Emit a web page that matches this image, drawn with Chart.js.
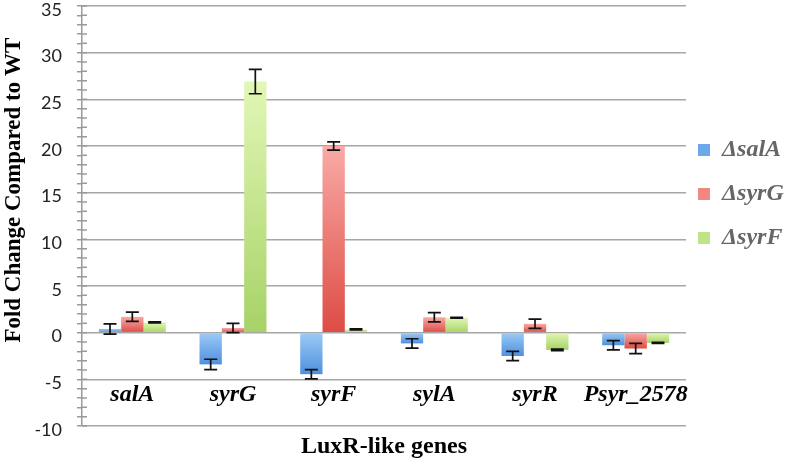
<!DOCTYPE html>
<html>
<head>
<meta charset="utf-8">
<script src="https://cdn.jsdelivr.net/npm/chart.js@4.4.1/dist/chart.umd.min.js"></script>
<style>
  html, body { margin: 0; padding: 0; background: #ffffff; }
  #wrap { width: 790px; height: 464px; }
</style>
</head>
<body>
<div id="wrap"><canvas id="c" width="790" height="464"></canvas></div>
<script>
// ---- data ----
const categories = ['salA', 'syrG', 'syrF', 'sylA', 'syrR', 'Psyr_2578'];
const seriesNames = ['\u0394salA', '\u0394syrG', '\u0394syrF'];
const salAValues = [0.4, -3.4, -4.45, -1.15, -2.5, -1.35];
const salAErrors = [0.55, 0.55, 0.5, 0.5, 0.5, 0.5];
const syrGValues = [1.7, 0.5, 20.0, 1.65, 0.95, -1.7];
const syrGErrors = [0.5, 0.5, 0.45, 0.5, 0.5, 0.55];
const syrFValues = [1.1, 26.9, 0.35, 1.6, -1.85, -1.1];
const syrFErrors = [0.05, 1.3, 0.05, 0.05, 0.08, 0.05];
const yMin = -10, yMax = 35, yMajorStep = 5;

// ---- styles ----
const palettes = [
  { legend: '#6ea8ea', light: '#9ccaf6', dark: '#4f90de' },
  { legend: '#ef8783', light: '#f9aaa7', dark: '#dd4c44' },
  { legend: '#bfe386', light: '#e2f7b6', dark: '#a6d266' }
];

function barFill(idx) {
  return function (ctx) {
    const p = palettes[idx];
    if (ctx.type !== 'data') return p.legend;
    const ys = ctx.chart.scales.y;
    if (!ys || ys.top === undefined) return p.legend;
    const v = ctx.raw;
    const top = ys.getPixelForValue(Math.max(v, 0));
    const bot = ys.getPixelForValue(Math.min(v, 0));
    if (!isFinite(top) || !isFinite(bot) || bot - top < 1) return p.legend;
    const g = ctx.chart.ctx.createLinearGradient(0, top, 0, bot);
    g.addColorStop(0, p.light);
    g.addColorStop(1, p.dark);
    return g;
  };
}

const valueSets = [salAValues, syrGValues, syrFValues];
const errorSets = [salAErrors, syrGErrors, syrFErrors];

const errorBarPlugin = {
  id: 'errorBars',
  afterDatasetsDraw(chart) {
    const c = chart.ctx;
    const ys = chart.scales.y;
    c.save();
    c.strokeStyle = '#111111';
    c.lineWidth = 1.7;
    chart.data.datasets.forEach((ds, i) => {
      const meta = chart.getDatasetMeta(i);
      if (meta.hidden) return;
      meta.data.forEach((el, j) => {
        const v = ds.data[j];
        const e = ds.errors[j];
        const x = el.x;
        const yHi = ys.getPixelForValue(v + e);
        const yLo = ys.getPixelForValue(v - e);
        const cap = 6.5;
        c.beginPath();
        c.moveTo(x, yHi); c.lineTo(x, yLo);
        c.moveTo(x - cap, yHi); c.lineTo(x + cap, yHi);
        c.moveTo(x - cap, yLo); c.lineTo(x + cap, yLo);
        c.stroke();
      });
    });
    c.restore();
  }
};

// minor tick marks continue a few pixels to the right of the value axis
const minorTickPlugin = {
  id: 'minorTicks',
  afterDraw(chart) {
    const ys = chart.scales.y;
    const c = chart.ctx;
    c.save();
    c.strokeStyle = '#9a9a9a';
    c.lineWidth = 1.5;
    c.beginPath();
    ys.ticks.forEach((t) => {
      const y = ys.getPixelForValue(t.value);
      c.moveTo(ys.right, y);
      c.lineTo(ys.right + 5, y);
    });
    c.stroke();
    c.restore();
  }
};

const serifFamily = '"Liberation Serif", "Times New Roman", serif';

const chart = new Chart(document.getElementById('c'), {
  type: 'bar',
  data: {
    labels: categories,
    datasets: seriesNames.map((name, i) => ({
      label: name,
      data: valueSets[i],
      errors: errorSets[i],
      backgroundColor: barFill(i),
      borderWidth: 0,
      categoryPercentage: 0.665,
      barPercentage: 1.0
    }))
  },
  options: {
    responsive: false,
    animation: false,
    devicePixelRatio: 1,
    layout: { padding: { top: 6, right: 0, bottom: 0, left: 0 } },
    plugins: {
      tooltip: { enabled: false },
      legend: {
        position: 'right',
        align: 'start',
        fullSize: false,
        maxWidth: 104,
        title: { display: true, text: ' ', font: { size: 10, lineHeight: 1.2 }, padding: { top: 108, bottom: 0 } },
        labels: {
          boxWidth: 12,
          boxHeight: 12,
          padding: 12,
          color: '#000000',
          font: { family: serifFamily, weight: 'bold', style: 'italic', size: 24, lineHeight: 32 / 24 },
          generateLabels(ch) {
            return ch.data.datasets.map((ds, i) => ({
              text: [ds.label],
              fillStyle: palettes[i].legend,
              strokeStyle: palettes[i].legend,
              lineWidth: 0,
              hidden: !ch.isDatasetVisible(i),
              datasetIndex: i
            }));
          }
        }
      }
    },
    scales: {
      x: {
        grid: { display: false, drawTicks: false },
        border: { display: false },
        ticks: {
          mirror: true,
          padding: 17,
          color: '#000000',
          maxRotation: 0,
          autoSkip: false,
          font: { family: serifFamily, weight: 'bold', style: 'italic', size: 24 }
        },
        title: {
          display: true,
          text: 'LuxR-like genes',
          color: '#000000',
          font: { family: serifFamily, weight: 'bold', size: 24 },
          padding: { top: 0, bottom: 3 }
        },
        afterFit(scale) { scale.height = 38; }
      },
      y: {
        min: yMin,
        max: yMax,
        grid: {
          color: (ctx) => (ctx.tick && ctx.tick.value % yMajorStep === 0) ? '#a6a6a6' : 'rgba(0,0,0,0)',
          tickColor: '#9a9a9a',
          tickLength: 5,
          lineWidth: 1.5
        },
        border: { display: true, color: '#9a9a9a', width: 1.5 },
        ticks: {
          stepSize: 1,
          autoSkip: false,
          padding: 15,
          labelOffset: 4,
          color: '#222222',
          font: { family: 'Lato, "Open Sans", sans-serif', size: 18 },
          callback: (v) => (v % yMajorStep === 0 ? String(v) : '')
        },
        title: {
          display: true,
          text: '\u00A0'.repeat(9) + 'Fold Change Compared to WT',
          color: '#000000',
          font: { family: serifFamily, weight: 'bold', size: 23 },
          padding: { top: 0, bottom: 0 }
        },
        afterFit(scale) { scale.width = 82; scale.paddingTop = 0; scale.paddingBottom = 0; }
      }
    }
  },
  plugins: [errorBarPlugin, minorTickPlugin]
});

// keep the plot's right edge where the reference has it
const targetRight = 686;
const diff = chart.chartArea.right - targetRight;
if (Math.abs(diff) > 0.5) {
  chart.options.layout.padding.right = Math.max(0, chart.options.layout.padding.right + diff);
  chart.update('none');
}
</script>
</body>
</html>
